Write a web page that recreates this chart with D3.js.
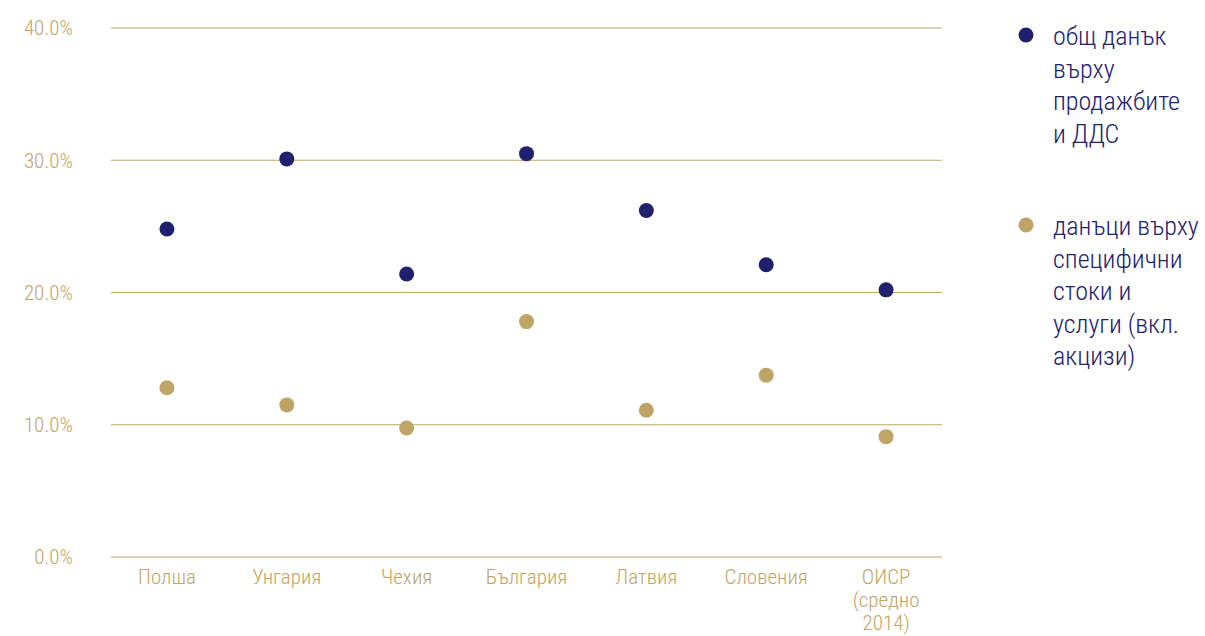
<!DOCTYPE html>
<html>
<head>
<meta charset="utf-8">
<script src="https://cdn.jsdelivr.net/npm/d3@7"></script>
<style>
  body { margin: 0; background: #fff; }
  svg { font-family: "Roboto Condensed", Roboto, sans-serif; font-weight: 300; }
</style>
</head>
<body>
<svg id="chart" width="1205" height="636"></svg>
<script>
// data
var categories = ["Полша", "Унгария", "Чехия", "България", "Латвия", "Словения", "ОИСР (средно 2014)"];
var totalSales = [24.8, 30.1, 21.4, 30.5, 26.2, 22.1, 20.2];   // общ данък върху продажбите и ДДС
var excise = [12.8, 11.5, 9.75, 17.8, 11.1, 13.75, 9.1];       // данъци върху специфични стоки и услуги
var yTicks = [0, 10, 20, 30, 40];
var seriesNames = [
  ["общ данък", "върху", "продажбите", "и ДДС"],
  ["данъци върху", "специфични", "стоки и", "услуги (вкл.", "акцизи)"]
];

var navy = "#20206e", gold = "#c0a465";

var svg = d3.select("#chart"),
    margin = {top: 28, right: 263, bottom: 79, left: 111},
    width = 1205 - margin.left - margin.right,
    height = 636 - margin.top - margin.bottom,
    g = svg.append("g").attr("transform", "translate(" + margin.left + "," + margin.top + ")");

var x = d3.scaleBand()
  .domain(categories)
  .range([-4, width + 4]);

var y = d3.scaleLinear()
  .domain([0, 40])
  .range([height, 0]);

// gridlines
g.selectAll(".grid")
  .data(yTicks)
  .enter().append("line")
    .attr("x1", 0)
    .attr("x2", width)
    .attr("y1", function(d) { return y(d); })
    .attr("y2", function(d) { return y(d); })
    .attr("stroke", gold)
    .attr("stroke-width", 1.2);

// y labels
g.selectAll(".ylab")
  .data(yTicks)
  .enter().append("text")
    .attr("x", -38)
    .attr("y", function(d) { return y(d); })
    .attr("dy", "0.35em")
    .attr("text-anchor", "end")
    .attr("fill", gold)
    .style("font-size", "21px")
    .text(function(d) { return d.toFixed(1) + "%"; });

// x labels (wrapped)
var xlab = g.selectAll(".xlab")
  .data(categories)
  .enter().append("text")
    .attr("text-anchor", "middle")
    .attr("fill", gold)
    .style("font-size", "21px")
    .attr("transform", function(d) { return "translate(" + (x(d) + x.bandwidth() / 2) + "," + (height + 27) + ")"; });

xlab.each(function(d) {
  var lines = d === "ОИСР (средно 2014)" ? ["ОИСР", "(средно", "2014)"] : [d];
  d3.select(this).selectAll("tspan")
    .data(lines)
    .enter().append("tspan")
      .attr("x", 0)
      .attr("dy", function(l, i) { return i === 0 ? 0 : 23; })
      .text(function(l) { return l; });
});

// dots
var series = [
  {values: totalSales, color: navy},
  {values: excise, color: gold}
];

series.forEach(function(s) {
  g.selectAll(null)
    .data(s.values)
    .enter().append("circle")
      .attr("cx", function(d, i) { return x(categories[i]) + x.bandwidth() / 2; })
      .attr("cy", function(d) { return y(d); })
      .attr("r", 7.5)
      .attr("fill", s.color);
});

// legend
var legendY = [35, 225];
seriesNames.forEach(function(lines, k) {
  var lg = svg.append("g").attr("transform", "translate(1026," + legendY[k] + ")");
  lg.append("circle").attr("r", 7.5).attr("fill", series[k].color);
  var t = lg.append("text")
    .attr("x", 27)
    .attr("y", 10)
    .attr("fill", navy)
    .style("font-size", "26px");
  t.selectAll("tspan")
    .data(lines)
    .enter().append("tspan")
      .attr("x", 27)
      .attr("dy", function(l, i) { return i === 0 ? 0 : 32.5; })
      .text(function(l) { return l; });
});
</script>
</body>
</html>
